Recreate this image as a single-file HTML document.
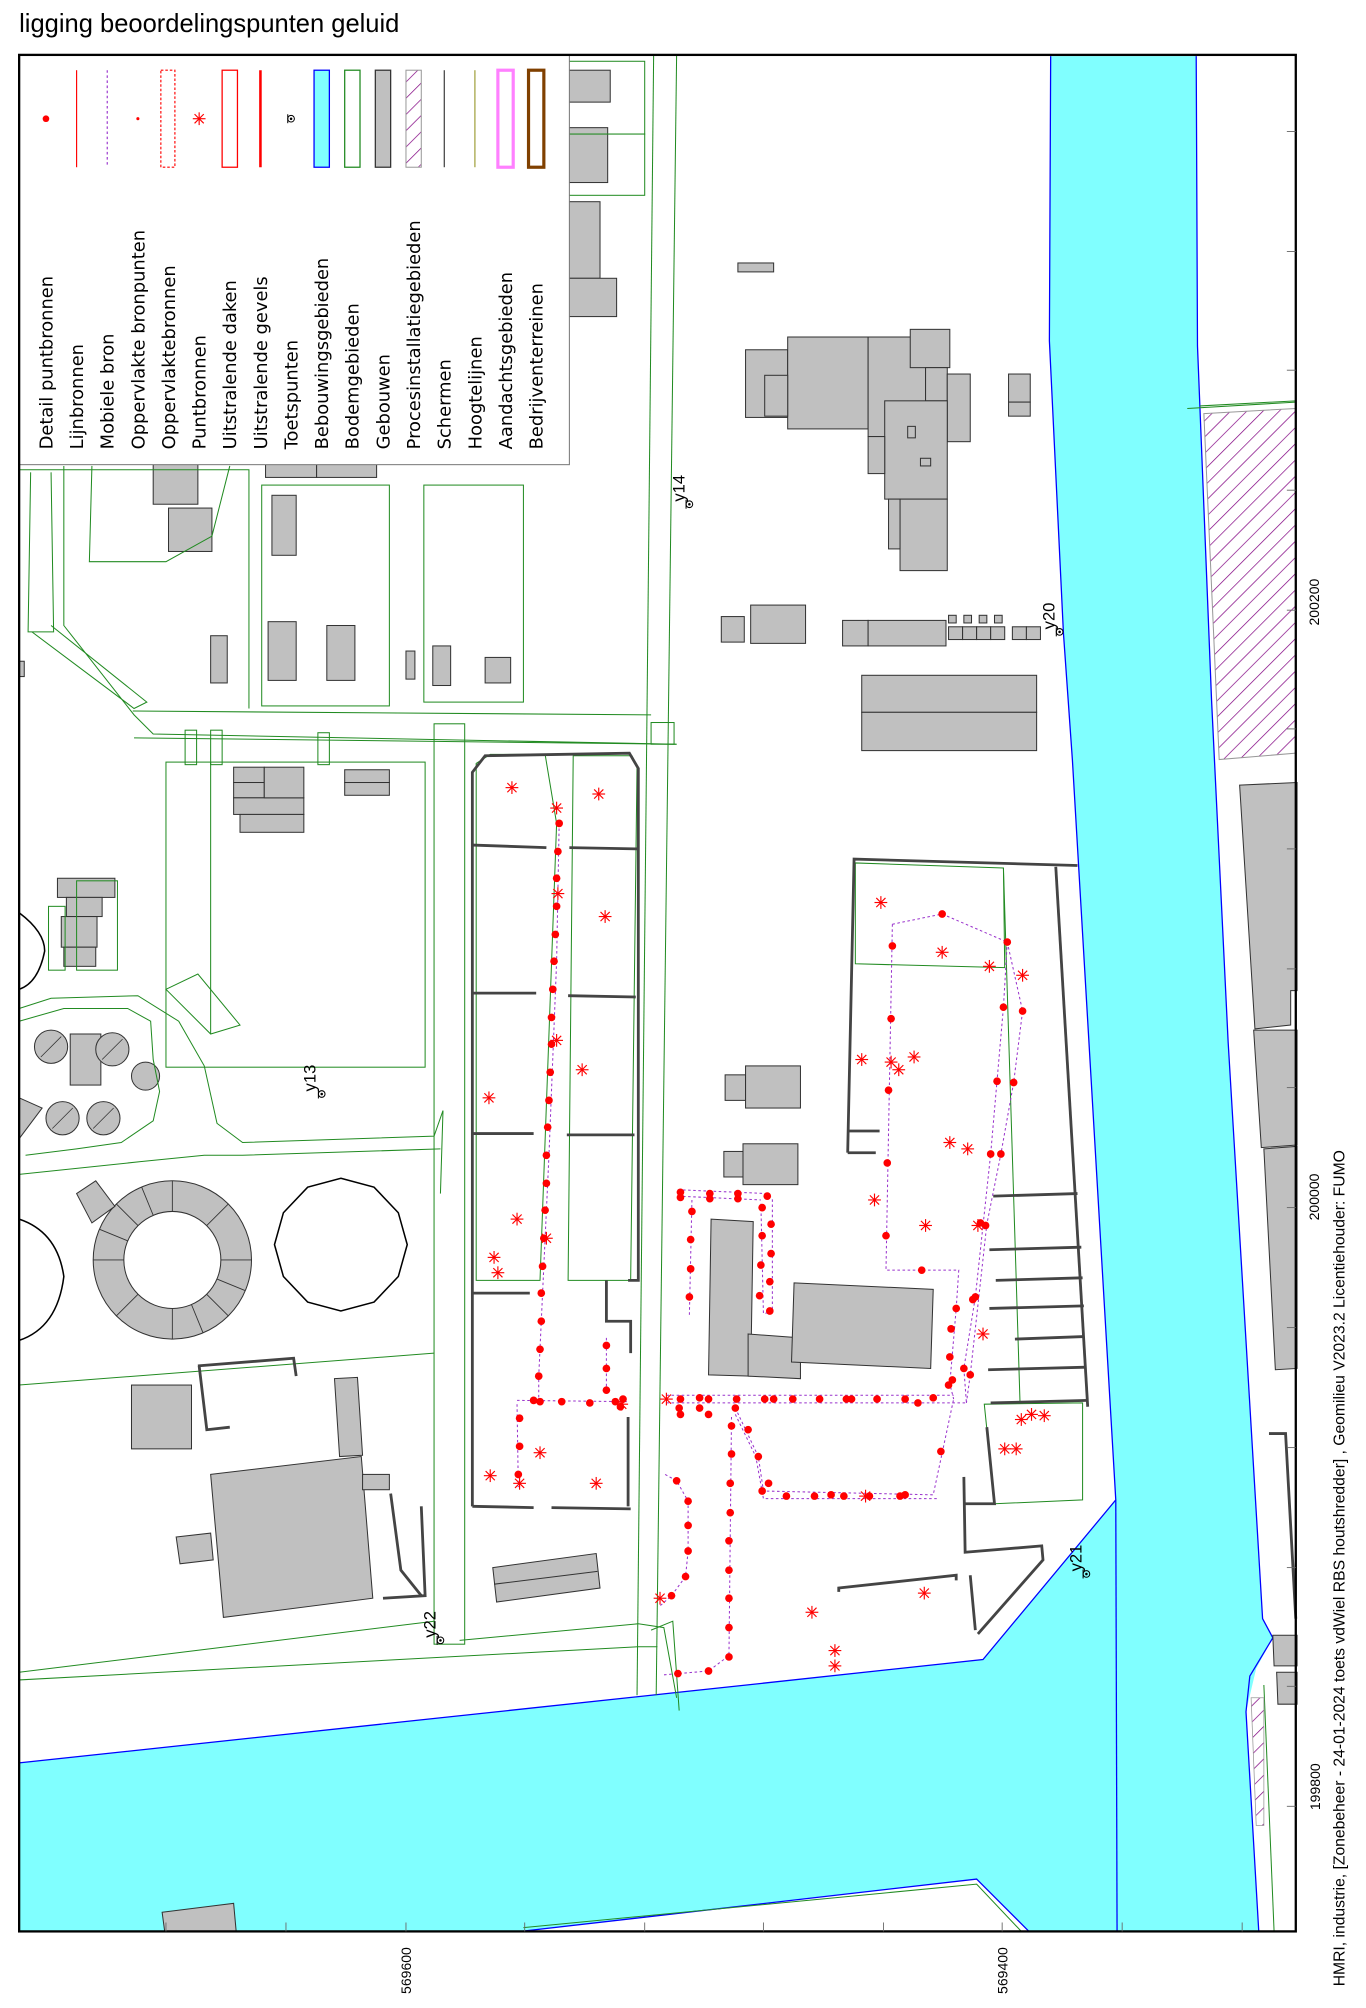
<!DOCTYPE html>
<html><head><meta charset="utf-8"><style>
html,body{margin:0;padding:0;background:#fff;}
svg{display:block;}
text{font-family:"Liberation Sans",sans-serif;}
text.lg{font-family:"DejaVu Sans",sans-serif;font-size:14px;}
</style></head><body>
<svg width="1366" height="2008" viewBox="0 0 1070 1573" preserveAspectRatio="none" xmlns="http://www.w3.org/2000/svg">
<defs>
<g id="ast" stroke="#f00" stroke-width="0.9"><line x1="-5" y1="0" x2="5" y2="0"/><line x1="0" y1="-5" x2="0" y2="5"/><line x1="-3.6" y1="-3.6" x2="3.6" y2="3.6"/><line x1="-3.6" y1="3.6" x2="3.6" y2="-3.6"/></g>
<g id="tp" stroke="#000" stroke-width="0.8" fill="none"><circle cx="0" cy="0" r="2.6"/><line x1="-2.6" y1="-3.5" x2="-2.6" y2="3.5"/><circle cx="0" cy="0" r="0.6" fill="#000"/></g>
<pattern id="hatch" width="9" height="9" patternUnits="userSpaceOnUse" patternTransform="rotate(45)"><line x1="0" y1="0" x2="0" y2="9" stroke="#800080" stroke-width="1.1"/></pattern>
</defs>
<rect width="1070" height="1573" fill="#fff"/>
<text x="15" y="25" font-size="20">ligging beoordelingspunten geluid</text>

<path d="M823,44 L822,267 L833,496 L840,595 L874,1175 L770,1300 L538,1325 L15,1381 L15,1513 L408,1513 L765,1472 L806,1513 L986,1513 L976,1341 L984,1307 L997,1283 L989,1268 L962,816 L949,548 L938,271 L937,44 Z" fill="#80ffff" stroke="none"/>
<path d="M823,44 L822,267 L833,496 L840,595 L874,1175 L770,1300 L538,1325 L15,1381" fill="none" stroke="#0000ff" stroke-width="1"/>
<path d="M408,1513 L765,1472 L806,1513" fill="none" stroke="#0000ff" stroke-width="1"/>
<path d="M410,1510 L765,1476 L800,1513" fill="none" stroke="#228b22" stroke-width="0.8"/>
<path d="M937,44 L938,271 L949,548 L962,816 L989,1268 L997,1283 L979,1313 L976,1341 L986,1513" fill="none" stroke="#0000ff" stroke-width="1"/>
<line x1="874" y1="1175" x2="875" y2="1513" stroke="#0000ff" stroke-width="1"/>
<path d="M990,1320 L998,1513" stroke="#228b22" stroke-width="0.8" fill="none"/>

<path d="M943,324 L1015,320 L1015,590 L955,595 Z" fill="url(#hatch)" stroke="#999" stroke-width="0.8"/>
<line x1="940" y1="318" x2="1015" y2="314" stroke="#228b22" stroke-width="0.8"/>
<path d="M980,1330 L990,1330 L990,1430 L984,1430 Z" fill="url(#hatch)" stroke="#999" stroke-width="0.6"/>

<g fill="#c0c0c0" stroke="#333" stroke-width="0.8">
<path d="M971,615 L1016,613 L1016,776 L1011,776 L1011,803 L983,806 Z"/>
<path d="M982,807 L1016,807 L1016,897 L988,899 Z"/>
<path d="M990,900 L1016,898 L1016,1072 L999,1073 Z"/>
<path d="M997,1281 L1016,1281 L1016,1305 L998,1305 Z"/>
<path d="M1000,1310 L1016,1310 L1016,1335 L1001,1335 Z"/>
<rect x="445" y="55" width="33" height="25"/>
<rect x="445" y="100" width="31" height="43"/>
<rect x="445" y="158" width="25" height="60"/>
<rect x="445" y="218" width="38" height="30"/>
<rect x="584" y="274" width="33" height="53"/>
<rect x="617" y="264" width="63" height="72"/>
<rect x="680" y="264" width="45" height="78"/>
<rect x="713" y="258" width="31" height="30"/>
<rect x="725" y="288" width="17" height="26"/>
<rect x="742" y="293" width="18" height="53"/>
<rect x="693" y="314" width="49" height="77"/>
<rect x="705" y="391" width="37" height="56"/>
<rect x="696" y="391" width="9" height="39"/>
<rect x="680" y="342" width="13" height="29"/>
<rect x="599" y="294" width="18" height="32"/>
<rect x="711" y="334" width="6" height="9" fill="none"/>
<rect x="721" y="359" width="8" height="6" fill="none"/>
<rect x="790" y="293" width="17" height="22"/>
<rect x="790" y="315" width="17" height="11"/>
<rect x="578" y="206" width="28" height="7"/>
<rect x="565" y="483" width="18" height="20"/>
<rect x="588" y="474" width="43" height="30"/>
<rect x="660" y="486" width="20" height="20"/>
<rect x="680" y="486" width="61" height="20"/>
<rect x="743" y="482" width="6" height="6"/><rect x="755" y="482" width="6" height="6"/><rect x="767" y="482" width="6" height="6"/><rect x="779" y="482" width="6" height="6"/>
<rect x="743" y="491" width="11" height="10"/><rect x="754" y="491" width="11" height="10"/><rect x="765" y="491" width="11" height="10"/><rect x="776" y="491" width="11" height="10"/>
<rect x="793" y="491" width="11" height="10"/><rect x="804" y="491" width="11" height="10"/>
<rect x="675" y="529" width="137" height="29"/>
<rect x="675" y="558" width="137" height="30"/>
<rect x="568" y="842" width="16" height="20"/>
<rect x="584" y="835" width="43" height="33"/>
<rect x="567" y="902" width="15" height="20"/>
<rect x="582" y="896" width="43" height="32"/>
<path d="M557,955 L590,957 L588,1078 L555,1077 Z"/>
<path d="M586,1045 L627,1048 L627,1080 L586,1078 Z"/>
<path d="M622,1005 L731,1010 L729,1072 L620,1067 Z"/>
<rect x="120" y="363" width="35" height="32"/>
<rect x="132" y="398" width="34" height="34"/>
<rect x="213" y="388" width="19" height="47"/>
<rect x="210" y="487" width="22" height="46"/>
<rect x="256" y="490" width="22" height="43"/>
<rect x="165" y="498" width="13" height="37"/>
<rect x="318" y="510" width="7" height="22"/>
<rect x="339" y="506" width="14" height="31"/>
<rect x="380" y="515" width="20" height="20"/>
<rect x="208" y="360" width="40" height="14"/>
<rect x="248" y="360" width="47" height="14"/>
<rect x="15" y="518" width="4" height="12"/>
<rect x="183" y="601" width="24" height="12"/><rect x="183" y="613" width="24" height="12"/><rect x="183" y="625" width="55" height="13"/><rect x="188" y="638" width="50" height="14"/><rect x="207" y="601" width="31" height="24"/>
<rect x="270" y="603" width="35" height="10"/><rect x="270" y="613" width="35" height="10"/>
<rect x="45" y="688" width="45" height="15"/>
<rect x="52" y="703" width="28" height="15"/>
<rect x="48" y="718" width="28" height="24"/>
<rect x="50" y="742" width="25" height="15"/>
<rect x="55" y="810" width="24" height="40"/>
<circle cx="114" cy="843" r="11"/>
<path d="M15,860 L33,868 L15,892 Z"/>
<rect x="103" y="1085" width="47" height="50"/>
<path d="M262,1080 L280,1079 L284,1140 L266,1141 Z"/>
<path d="M165,1155 L283,1141 L292,1252 L175,1267 Z"/>
<rect x="284" y="1155" width="21" height="12"/>
<path d="M138,1204 L165,1201 L167,1222 L141,1225 Z"/>
<path d="M386,1228 L467,1217 L470,1244 L389,1255 Z"/>
<path d="M127,1498 L183,1491 L185,1513 L129,1513 Z"/>
</g>
<line x1="387" y1="1241" x2="468" y2="1231" stroke="#333" stroke-width="0.8"/>

<g fill="#c0c0c0" stroke="#333" stroke-width="0.8">
<circle cx="40" cy="820" r="13"/><circle cx="88" cy="822" r="13"/>
<circle cx="49" cy="876" r="13"/><circle cx="81" cy="876" r="13"/>
</g>
<g stroke="#333" stroke-width="0.6">
<line x1="32" y1="828" x2="48" y2="812"/><line x1="80" y1="830" x2="96" y2="814"/><line x1="41" y1="884" x2="57" y2="868"/><line x1="73" y1="884" x2="89" y2="868"/>
</g>
<circle cx="135" cy="987" r="50" fill="none" stroke="#c0c0c0" stroke-width="24"/>
<circle cx="135" cy="987" r="62" fill="none" stroke="#333" stroke-width="0.8"/>
<circle cx="135" cy="987" r="38" fill="#fff" stroke="#333" stroke-width="0.8"/>
<g stroke="#333" stroke-width="0.7">
<line x1="135" y1="925" x2="135" y2="949"/><line x1="135" y1="1025" x2="135" y2="1049"/><line x1="73" y1="987" x2="97" y2="987"/><line x1="173" y1="987" x2="197" y2="987"/>
<line x1="91" y1="943" x2="108" y2="960"/><line x1="162" y1="1014" x2="179" y2="1031"/><line x1="91" y1="1031" x2="108" y2="1014"/><line x1="162" y1="960" x2="179" y2="943"/>
<line x1="111" y1="930" x2="120" y2="952"/><line x1="150" y1="1022" x2="159" y2="1044"/><line x1="78" y1="963" x2="100" y2="972"/><line x1="170" y1="1002" x2="192" y2="1011"/>
</g>
<path d="M60,935 L75,925 L90,945 L72,958 Z" fill="#c0c0c0" stroke="#333" stroke-width="0.8"/>
<polygon points="267,923 293,930 312,950 319,975 312,1000 293,1020 267,1027 241,1020 222,1000 215,975 222,950 241,930" fill="none" stroke="#000" stroke-width="1.2"/>
<path d="M15,715 Q35,730 35,745 Q30,770 15,775" fill="none" stroke="#000" stroke-width="1.2"/>
<path d="M15,955 Q45,965 50,1000 Q45,1040 15,1050" fill="none" stroke="#000" stroke-width="1.2"/>

<g fill="none" stroke="#228b22" stroke-width="0.8">
<rect x="443" y="48" width="62" height="57"/>
<rect x="443" y="105" width="62" height="48"/>
<line x1="512" y1="43" x2="499" y2="1328"/>
<line x1="530" y1="43" x2="514" y2="1328"/>
<rect x="205" y="380" width="100" height="173"/>
<rect x="332" y="380" width="78" height="170"/>
<path d="M15,368 L195,368 L195,555"/>
<path d="M50,365 L50,490 L105,560 L120,575 L530,583"/>
<path d="M72,365 L70,440 L130,440 L166,420 L180,365"/>
<path d="M24,370 L22,495 L42,495 L40,370"/>
<path d="M25,495 L105,555 L115,550 L40,490"/>
<path d="M104,557 L510,560"/>
<path d="M105,578 L530,583"/>
<rect x="145" y="572" width="9" height="27"/>
<rect x="165" y="572" width="9" height="27"/>
<rect x="249" y="574" width="9" height="25"/>
<rect x="510" y="566" width="18" height="17"/>
<rect x="130" y="597" width="203" height="239"/>
<path d="M130,775 L155,763 L188,803 L165,810 Z"/>
<path d="M165,597 L165,810"/>
<rect x="340" y="567" width="24" height="721"/>
<rect x="38" y="710" width="13" height="50"/>
<rect x="60" y="690" width="32" height="70"/>
<path d="M15,790 L40,782 L108,780 L140,800 L160,835 L170,880 L190,895 L340,890 L347,870"/>
<path d="M15,800 L50,790 L100,790 L118,800 L120,830 L125,855 L120,878 L95,895 L60,900 L20,905"/>
<path d="M15,920 L110,910 L160,905 L190,905 L345,900"/>
<path d="M347,870 L345,935"/>
<path d="M15,1085 L340,1060"/>
<path d="M15,1310 L340,1270"/>
<path d="M15,1316 L500,1290 L515,1290"/>
<path d="M360,1285 L500,1272 L520,1275 L530,1330"/>
<path d="M510,1277 L527,1270 L532,1340"/>
<path d="M373,598 L384,591 L427,591 L436,645 L423,1003 L373,1003 Z"/>
<path d="M449,592 L495,592 L499,600 L494,1003 L445,1003 Z"/>
<path d="M670,676 L786,680 L787,758 L670,755 Z"/>
<path d="M786,680 L799,1099"/>
<path d="M771,1100 L848,1099 L848,1175 L779,1178 Z"/>
<line x1="930" y1="320" x2="1015" y2="315"/>
</g>

<g fill="none" stroke="#444" stroke-width="2.2">
<path d="M370,1180 L370,605 L380,592 L493,590 L500,602 L500,1003 L492,1003"/>
<path d="M370,662 L428,664 M446,664 L500,665"/>
<path d="M370,778 L420,778 M445,780 L498,781"/>
<path d="M370,888 L418,888 M444,889 L497,889"/>
<path d="M370,1013 L415,1013"/>
<path d="M475,1003 L475,1035 L494,1035 L494,1060"/>
<path d="M492,1110 L492,1180"/>
<path d="M370,1180 L418,1181 M432,1181 L494,1182"/>
<path d="M664,903 L669,673 L844,678"/>
<path d="M664,886 L689,886 M664,903 L686,903"/>
<path d="M827,679 L852,1102"/>
<path d="M778,937 L844,935 M775,979 L847,977 M780,1003 L848,1001 M775,1025 L849,1023 M795,1049 L849,1047 M774,1073 L851,1071 M776,1099 L852,1097"/>
<path d="M755,1157 L756,1216 L816,1211 L817,1222 L766,1280"/>
<path d="M755,1178 L779,1178 L773,1118"/>
<path d="M760,1234 L764,1277"/>
<path d="M657,1247 L657,1244 L749,1234 L749,1238"/>
<path d="M994,1123 L1007,1123 L1015,1268"/>
<path d="M155,1070 L230,1064 L232,1078"/>
<path d="M156,1070 L162,1120 L180,1118"/>
<path d="M306,1170 L314,1230 L330,1250 M330,1180 L333,1250 L300,1252"/>
</g>

<g fill="none" stroke="#9932cc" stroke-width="0.8" stroke-dasharray="2,2">
<path d="M438,645 L436,753 L430,905 L422,1078 L422,1100"/>
<path d="M405,1097 L492,1098 M405,1100 L406,1165 M475,1048 L475,1092"/>
<path d="M522,1093 L747,1093 M522,1099 L757,1099"/>
<path d="M531,932 L601,935 L605,940 L605,1028 L598,1029 L596,943 M531,937 L596,940 M542,940 L540,1030"/>
<path d="M576,1103 L594,1141 L598,1168 L731,1171 L747,1096 M576,1108 L592,1141 L598,1174 L735,1174"/>
<path d="M573,1110 L571,1297 L555,1309 L520,1312"/>
<path d="M521,1155 L530,1160 L539,1176 L539,1215 L537,1235 L526,1250 L517,1258"/>
<path d="M699,724 L738,716 L789,738 M699,724 L694,995 L751,995 L749,1025 L744,1084 L747,1096"/>
<path d="M789,738 L786,789 L776,904 L764,1016 L755,1072 L757,1099 M789,738 L801,792 L794,848 L784,904 L773,959 L760,1077 L757,1099"/>
</g>

<g fill="#f00">
<circle cx="438" cy="645" r="3"/><circle cx="437" cy="667" r="3"/><circle cx="436" cy="688" r="3"/><circle cx="436" cy="710" r="3"/><circle cx="435" cy="732" r="3"/><circle cx="434" cy="753" r="3"/><circle cx="433" cy="775" r="3"/><circle cx="432" cy="797" r="3"/><circle cx="432" cy="818" r="3"/><circle cx="431" cy="840" r="3"/><circle cx="430" cy="862" r="3"/><circle cx="429" cy="883" r="3"/><circle cx="428" cy="905" r="3"/><circle cx="428" cy="927" r="3"/><circle cx="427" cy="948" r="3"/><circle cx="426" cy="970" r="3"/><circle cx="425" cy="992" r="3"/><circle cx="424" cy="1013" r="3"/><circle cx="424" cy="1035" r="3"/><circle cx="423" cy="1057" r="3"/><circle cx="422" cy="1078" r="3"/>
<circle cx="418" cy="1097" r="3"/><circle cx="423" cy="1098" r="3"/><circle cx="440" cy="1098" r="3"/><circle cx="462" cy="1099" r="3"/><circle cx="482" cy="1098" r="3"/><circle cx="488" cy="1096" r="3"/><circle cx="486" cy="1102" r="3"/>
<circle cx="407" cy="1111" r="3"/><circle cx="407" cy="1133" r="3"/><circle cx="406" cy="1155" r="3"/>
<circle cx="475" cy="1054" r="3"/><circle cx="475" cy="1072" r="3"/><circle cx="475" cy="1089" r="3"/>
<circle cx="533" cy="1096" r="3"/><circle cx="548" cy="1095" r="3"/><circle cx="555" cy="1096" r="3"/><circle cx="577" cy="1096" r="3"/><circle cx="599" cy="1096" r="3"/><circle cx="606" cy="1096" r="3"/><circle cx="621" cy="1096" r="3"/><circle cx="642" cy="1096" r="3"/><circle cx="663" cy="1096" r="3"/><circle cx="667" cy="1096" r="3"/><circle cx="687" cy="1096" r="3"/><circle cx="709" cy="1096" r="3"/><circle cx="719" cy="1099" r="3"/><circle cx="731" cy="1095" r="3"/>
<circle cx="532" cy="1103" r="3"/><circle cx="533" cy="1108" r="3"/><circle cx="548" cy="1103" r="3"/><circle cx="555" cy="1108" r="3"/><circle cx="576" cy="1103" r="3"/>
<circle cx="533" cy="934" r="3"/><circle cx="533" cy="938" r="3"/><circle cx="556" cy="935" r="3"/><circle cx="556" cy="939" r="3"/><circle cx="578" cy="935" r="3"/><circle cx="578" cy="939" r="3"/><circle cx="601" cy="937" r="3"/>
<circle cx="597" cy="946" r="3"/><circle cx="597" cy="968" r="3"/><circle cx="596" cy="991" r="3"/><circle cx="595" cy="1015" r="3"/><circle cx="603" cy="1027" r="3"/>
<circle cx="604" cy="959" r="3"/><circle cx="604" cy="982" r="3"/><circle cx="603" cy="1004" r="3"/>
<circle cx="542" cy="949" r="3"/><circle cx="541" cy="971" r="3"/><circle cx="541" cy="994" r="3"/><circle cx="540" cy="1016" r="3"/>
<circle cx="586" cy="1120" r="3"/><circle cx="594" cy="1141" r="3"/><circle cx="602" cy="1162" r="3"/><circle cx="597" cy="1168" r="3"/>
<circle cx="616" cy="1172" r="3"/><circle cx="638" cy="1172" r="3"/><circle cx="651" cy="1171" r="3"/><circle cx="661" cy="1172" r="3"/><circle cx="681" cy="1172" r="3"/><circle cx="705" cy="1172" r="3"/><circle cx="709" cy="1171" r="3"/><circle cx="737" cy="1137" r="3"/>
<circle cx="573" cy="1117" r="3"/><circle cx="573" cy="1139" r="3"/><circle cx="572" cy="1162" r="3"/><circle cx="572" cy="1185" r="3"/><circle cx="571" cy="1207" r="3"/><circle cx="571" cy="1230" r="3"/><circle cx="571" cy="1252" r="3"/><circle cx="571" cy="1275" r="3"/><circle cx="571" cy="1298" r="3"/><circle cx="555" cy="1309" r="3"/><circle cx="531" cy="1311" r="3"/>
<circle cx="530" cy="1160" r="3"/><circle cx="539" cy="1176" r="3"/><circle cx="539" cy="1195" r="3"/><circle cx="539" cy="1215" r="3"/><circle cx="537" cy="1235" r="3"/><circle cx="526" cy="1250" r="3"/>
<circle cx="738" cy="716" r="3"/><circle cx="789" cy="738" r="3"/>
<circle cx="699" cy="741" r="3"/><circle cx="698" cy="798" r="3"/><circle cx="696" cy="854" r="3"/><circle cx="695" cy="911" r="3"/><circle cx="694" cy="968" r="3"/><circle cx="722" cy="995" r="3"/>
<circle cx="786" cy="789" r="3"/><circle cx="781" cy="847" r="3"/><circle cx="776" cy="904" r="3"/><circle cx="772" cy="960" r="3"/><circle cx="764" cy="1016" r="3"/>
<circle cx="801" cy="792" r="3"/><circle cx="794" cy="848" r="3"/><circle cx="784" cy="904" r="3"/><circle cx="768" cy="958" r="3"/><circle cx="762" cy="1018" r="3"/>
<circle cx="749" cy="1025" r="3"/><circle cx="745" cy="1041" r="3"/><circle cx="744" cy="1063" r="3"/><circle cx="746" cy="1081" r="3"/><circle cx="743" cy="1085" r="3"/><circle cx="755" cy="1072" r="3"/><circle cx="760" cy="1077" r="3"/>
</g>

<use href="#ast" x="401" y="617"/><use href="#ast" x="469" y="622"/><use href="#ast" x="436" y="633"/><use href="#ast" x="474" y="718"/><use href="#ast" x="437" y="700"/><use href="#ast" x="436" y="815"/><use href="#ast" x="456" y="838"/><use href="#ast" x="383" y="860"/><use href="#ast" x="405" y="955"/><use href="#ast" x="387" y="985"/><use href="#ast" x="390" y="997"/><use href="#ast" x="428" y="970"/><use href="#ast" x="423" y="1138"/><use href="#ast" x="384" y="1156"/><use href="#ast" x="407" y="1162"/><use href="#ast" x="467" y="1162"/>
<use href="#ast" x="690" y="707"/><use href="#ast" x="738" y="746"/><use href="#ast" x="775" y="757"/><use href="#ast" x="801" y="764"/><use href="#ast" x="675" y="830"/><use href="#ast" x="698" y="832"/><use href="#ast" x="704" y="838"/><use href="#ast" x="716" y="828"/><use href="#ast" x="744" y="895"/><use href="#ast" x="758" y="900"/><use href="#ast" x="685" y="940"/><use href="#ast" x="725" y="960"/><use href="#ast" x="766" y="960"/><use href="#ast" x="770" y="1045"/><use href="#ast" x="808" y="1108"/><use href="#ast" x="818" y="1109"/><use href="#ast" x="800" y="1112"/><use href="#ast" x="787" y="1135"/><use href="#ast" x="796" y="1135"/><use href="#ast" x="724" y="1248"/><use href="#ast" x="636" y="1263"/><use href="#ast" x="654" y="1293"/><use href="#ast" x="654" y="1305"/><use href="#ast" x="517" y="1252"/><use href="#ast" x="522" y="1096"/><use href="#ast" x="678" y="1172"/><use href="#ast" x="487" y="1100"/>

<use href="#tp" x="252" y="857"/><text transform="translate(247,855) rotate(-90)" font-size="13">y13</text>
<use href="#tp" x="540" y="395"/><text transform="translate(536,393) rotate(-90)" font-size="13">y14</text>
<use href="#tp" x="830" y="495"/><text transform="translate(826,493) rotate(-90)" font-size="13">y20</text>
<use href="#tp" x="851" y="1233"/><text transform="translate(847,1231) rotate(-90)" font-size="13">y21</text>
<use href="#tp" x="345" y="1285"/><text transform="translate(341,1283) rotate(-90)" font-size="13">y22</text>

<rect x="15" y="43" width="431" height="321" fill="#fff" stroke="#777" stroke-width="0.8"/>
<circle cx="36" cy="93" r="2.6" fill="#f00"/>
<line x1="60" y1="55" x2="60" y2="131" stroke="#f00" stroke-width="0.9"/>
<line x1="84" y1="55" x2="84" y2="131" stroke="#9932cc" stroke-width="0.9" stroke-dasharray="2,2"/>
<circle cx="108" cy="93" r="1.2" fill="#f00"/>
<rect x="126" y="55" width="11" height="76" fill="none" stroke="#f00" stroke-width="0.9" stroke-dasharray="2,1.5"/>
<use href="#ast" x="156" y="93"/>
<rect x="174" y="55" width="12" height="76" fill="none" stroke="#f00" stroke-width="1"/>
<line x1="204" y1="55" x2="204" y2="131" stroke="#f00" stroke-width="2"/>
<use href="#tp" x="228" y="93"/>
<rect x="246" y="55" width="12" height="76" fill="#80ffff" stroke="#00f" stroke-width="1"/>
<rect x="270" y="55" width="12" height="76" fill="none" stroke="#228b22" stroke-width="1"/>
<rect x="294" y="55" width="12" height="76" fill="#c0c0c0" stroke="#333" stroke-width="1"/>
<rect x="318" y="55" width="12" height="76" fill="url(#hatch)" stroke="#999" stroke-width="0.8"/>
<line x1="348" y1="55" x2="348" y2="131" stroke="#333" stroke-width="0.9"/>
<line x1="372" y1="55" x2="372" y2="131" stroke="#9a9a30" stroke-width="0.9"/>
<rect x="390" y="55" width="12" height="76" fill="none" stroke="#ff80ff" stroke-width="2.5"/>
<rect x="414" y="55" width="12" height="76" fill="none" stroke="#804000" stroke-width="2.5"/>
<text class="lg" transform="translate(41,352) rotate(-90)">Detail puntbronnen</text>
<text class="lg" transform="translate(65,352) rotate(-90)">Lijnbronnen</text>
<text class="lg" transform="translate(89,352) rotate(-90)">Mobiele bron</text>
<text class="lg" transform="translate(113,352) rotate(-90)">Oppervlakte bronpunten</text>
<text class="lg" transform="translate(137,352) rotate(-90)">Oppervlaktebronnen</text>
<text class="lg" transform="translate(161,352) rotate(-90)">Puntbronnen</text>
<text class="lg" transform="translate(185,352) rotate(-90)">Uitstralende daken</text>
<text class="lg" transform="translate(209,352) rotate(-90)">Uitstralende gevels</text>
<text class="lg" transform="translate(233,352) rotate(-90)">Toetspunten</text>
<text class="lg" transform="translate(257,352) rotate(-90)">Bebouwingsgebieden</text>
<text class="lg" transform="translate(281,352) rotate(-90)">Bodemgebieden</text>
<text class="lg" transform="translate(305,352) rotate(-90)">Gebouwen</text>
<text class="lg" transform="translate(329,352) rotate(-90)">Procesinstallatiegebieden</text>
<text class="lg" transform="translate(353,352) rotate(-90)">Schermen</text>
<text class="lg" transform="translate(377,352) rotate(-90)">Hoogtelijnen</text>
<text class="lg" transform="translate(401,352) rotate(-90)">Aandachtsgebieden</text>
<text class="lg" transform="translate(425,352) rotate(-90)">Bedrijventerreinen</text>

<rect x="15" y="43" width="1000" height="1470" fill="none" stroke="#000" stroke-width="1.8"/>
<g stroke="#666" stroke-width="0.7">
<line x1="130" y1="1513" x2="130" y2="1506"/><line x1="224" y1="1513" x2="224" y2="1506"/><line x1="318" y1="1513" x2="318" y2="1506"/><line x1="411" y1="1513" x2="411" y2="1506"/><line x1="505" y1="1513" x2="505" y2="1506"/><line x1="598" y1="1513" x2="598" y2="1506"/><line x1="692" y1="1513" x2="692" y2="1506"/><line x1="785" y1="1513" x2="785" y2="1506"/><line x1="879" y1="1513" x2="879" y2="1506"/><line x1="973" y1="1513" x2="973" y2="1506"/>
<line x1="1015" y1="103" x2="1008" y2="103"/><line x1="1015" y1="197" x2="1008" y2="197"/><line x1="1015" y1="290" x2="1008" y2="290"/><line x1="1015" y1="384" x2="1008" y2="384"/><line x1="1015" y1="478" x2="1008" y2="478"/><line x1="1015" y1="571" x2="1008" y2="571"/><line x1="1015" y1="665" x2="1008" y2="665"/><line x1="1015" y1="759" x2="1008" y2="759"/><line x1="1015" y1="852" x2="1008" y2="852"/><line x1="1015" y1="946" x2="1008" y2="946"/><line x1="1015" y1="1040" x2="1008" y2="1040"/><line x1="1015" y1="1134" x2="1008" y2="1134"/><line x1="1015" y1="1228" x2="1008" y2="1228"/><line x1="1015" y1="1321" x2="1008" y2="1321"/><line x1="1015" y1="1415" x2="1008" y2="1415"/>
</g>
<g font-size="11">
<text transform="translate(322,1562) rotate(-90)">569600</text>
<text transform="translate(789,1562) rotate(-90)">569400</text>
<text transform="translate(1033,490) rotate(-90)">200200</text>
<text transform="translate(1033,956) rotate(-90)">200000</text>
<text transform="translate(1034,1418) rotate(-90)">199800</text>
</g>
<text transform="translate(1053,1556) rotate(-90)" font-size="12.5" textLength="655" lengthAdjust="spacingAndGlyphs">HMRI, industrie, [Zonebeheer - 24-01-2024 toets vdWiel RBS houtshredder] , Geomilieu V2023.2 Licentiehouder: FUMO</text>
</svg>
</body></html>
